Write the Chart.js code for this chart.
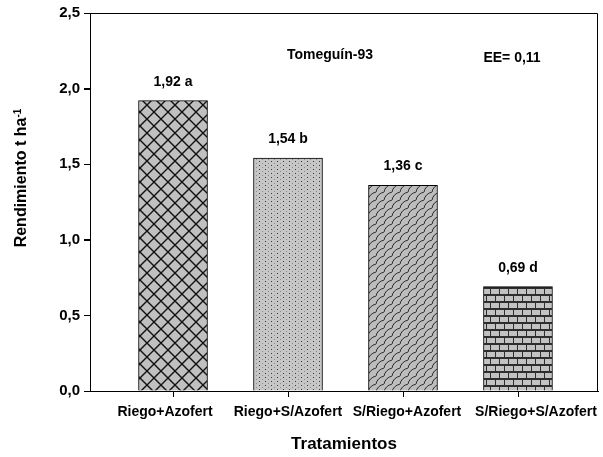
<!DOCTYPE html>
<html lang="es">
<head>
    <meta charset="UTF-8">
    <title>Rendimiento - Tomeguín-93</title>
    <script src="https://cdn.jsdelivr.net/npm/chart.js"></script>
    <style>
        html, body { margin: 0; padding: 0; background: #fff; }
        #grafico-box { width: 603px; height: 457px; }
    </style>
</head>
<body>
    <div id="grafico-box">
        <canvas id="graficoRendimiento"></canvas>
    </div>

    <script>
        // Datos
        const categorias = ['Riego+Azofert', 'Riego+S/Azofert', 'S/Riego+Azofert', 'S/Riego+S/Azofert'];
        const rendimiento = [1.92, 1.54, 1.36, 0.69];
        const letras = ['a', 'b', 'c', 'd'];
        const ticksY = [0, 0.5, 1.0, 1.5, 2.0, 2.5];
        const posX = [1, 2, 3, 4];
        // corrimiento de las etiquetas del eje X (en el original no quedan centradas)
        const corrimientoEtiq = [-8, 0, 4, 18];

        const fuente = '"Liberation Sans", Arial, sans-serif';
        const coma = v => v.toFixed(2).replace('.', ',');

        // Tramas de relleno de las barras
        function trama(w, h, dibujar) {
            const c = document.createElement('canvas');
            c.width = w; c.height = h;
            const g = c.getContext('2d');
            dibujar(g, w, h);
            return g.createPattern(c, 'repeat');
        }

        const tramaCruzada = trama(14, 14, (g, w, h) => {
            g.fillStyle = '#c0c0c0'; g.fillRect(0, 0, w, h);
            g.strokeStyle = '#111'; g.lineWidth = 1.4;
            g.beginPath();
            g.moveTo(0, 0); g.lineTo(w, h);
            g.moveTo(w, 0); g.lineTo(0, h);
            g.stroke();
        });

        const tramaPuntos = trama(6, 4, (g, w, h) => {
            g.fillStyle = '#c6c6c6'; g.fillRect(0, 0, w, h);
            g.fillStyle = '#3a3a3a'; g.fillRect(1, 1, 1, 1);
            g.fillStyle = '#8a8a8a'; g.fillRect(4, 3, 1, 1);
        });

        const tramaEscamas = trama(8, 8, (g, w, h) => {
            g.fillStyle = '#bdbdbd'; g.fillRect(0, 0, w, h);
            g.strokeStyle = '#2a2a2a'; g.lineWidth = 1;
            g.beginPath();
            g.moveTo(0, 8); g.quadraticCurveTo(1, 2, 8, 0);
            g.moveTo(-8, 8); g.quadraticCurveTo(-7, 2, 0, 0);
            g.moveTo(8, 8); g.quadraticCurveTo(9, 2, 16, 0);
            g.stroke();
        });

        const tramaLadrillo = trama(18, 14, (g, w, h) => {
            g.fillStyle = '#c2c2c2'; g.fillRect(0, 0, w, h);
            g.fillStyle = '#2e2e2e';
            g.fillRect(0, 0, w, 2);
            g.fillRect(0, 7, w, 2);
            g.fillRect(0, 2, 1, 5); g.fillRect(9, 2, 1, 5);
            g.fillRect(4, 9, 1, 5); g.fillRect(13, 9, 1, 5);
        });

        const tramas = [tramaCruzada, tramaPuntos, tramaEscamas, tramaLadrillo];

        // Textos extra: marco, marcas de eje, títulos, etiquetas y anotaciones
        const textosExtra = {
            id: 'textosExtra',
            afterDraw(chart) {
                const ctx = chart.ctx;
                const a = chart.chartArea;
                const sx = chart.scales.x;
                const sy = chart.scales.y;
                ctx.save();
                ctx.strokeStyle = '#000';
                ctx.lineWidth = 1;
                ctx.beginPath();
                ctx.moveTo(a.left, a.top + 0.5);
                ctx.lineTo(a.right - 0.5, a.top + 0.5);
                ctx.lineTo(a.right - 0.5, a.bottom);
                // marcas de los ejes
                posX.forEach(v => {
                    const px = Math.round(sx.getPixelForValue(v)) + 0.5;
                    ctx.moveTo(px, a.bottom);
                    ctx.lineTo(px, a.bottom + 6);
                });
                ticksY.forEach(v => {
                    const py = Math.round(sy.getPixelForValue(v)) + 0.5;
                    ctx.moveTo(a.left - 6, py);
                    ctx.lineTo(a.left, py);
                });
                ctx.stroke();

                ctx.fillStyle = '#000';
                ctx.textAlign = 'center';
                ctx.textBaseline = 'middle';

                // etiquetas del eje X
                ctx.font = 'bold 14px ' + fuente;
                posX.forEach((v, i) => {
                    ctx.fillText(categorias[i], sx.getPixelForValue(v) + corrimientoEtiq[i], a.bottom + 21);
                });

                // etiquetas sobre las barras
                chart.getDatasetMeta(0).data.forEach((barra, i) => {
                    ctx.fillText(coma(rendimiento[i]) + ' ' + letras[i], barra.x, barra.y - 19);
                });

                // anotaciones
                ctx.fillText('Tomeguín-93', 330, 55);
                ctx.fillText('EE= 0,11', 512, 58);

                // título eje X
                ctx.font = 'bold 17px ' + fuente;
                ctx.fillText('Tratamientos', (a.left + a.right) / 2, 444);

                // título eje Y con superíndice
                ctx.translate(22, 178);
                ctx.rotate(-Math.PI / 2);
                ctx.font = 'bold 16px ' + fuente;
                const base = 'Rendimiento t ha';
                const sup = '-1';
                const wb = ctx.measureText(base).width;
                ctx.font = 'bold 10px ' + fuente;
                const ws = ctx.measureText(sup).width;
                const x0 = -(wb + ws) / 2;
                ctx.textAlign = 'left';
                ctx.font = 'bold 16px ' + fuente;
                ctx.fillText(base, x0, 0);
                ctx.font = 'bold 10px ' + fuente;
                ctx.fillText(sup, x0 + wb, -4);
                ctx.restore();
            }
        };

        const ctxRend = document.getElementById('graficoRendimiento').getContext('2d');
        const graficoRendimiento = new Chart(ctxRend, {
            type: 'bar',
            data: {
                datasets: [{
                    label: 'Rendimiento',
                    data: rendimiento.map((v, i) => ({ x: posX[i], y: v })),
                    backgroundColor: tramas,
                    borderColor: '#000',
                    borderWidth: 1,
                    borderSkipped: 'bottom',
                    barThickness: 69
                }]
            },
            options: {
                responsive: true,
                maintainAspectRatio: false,
                animation: false,
                layout: { padding: { top: 13, right: 5, left: 0, bottom: 0 } },
                plugins: {
                    legend: { display: false },
                    tooltip: { enabled: false }
                },
                scales: {
                    x: {
                        type: 'linear',
                        offset: false,
                        min: 0.278,
                        max: 4.696,
                        afterBuildTicks: s => { s.ticks = posX.map(v => ({ value: v })); },
                        afterFit: s => { s.height = 66; },
                        ticks: { display: false },
                        grid: { display: false },
                        border: { display: true, color: '#000', width: 1 }
                    },
                    y: {
                        min: 0,
                        max: 2.5,
                        afterBuildTicks: s => { s.ticks = ticksY.map(v => ({ value: v })); },
                        afterFit: s => { s.width = 90; },
                        ticks: {
                            padding: 4,
                            color: '#000',
                            font: { family: fuente, size: 15, weight: 'bold' },
                            callback: v => v.toFixed(1).replace('.', ',')
                        },
                        grid: {
                            drawOnChartArea: false,
                            drawTicks: true,
                            tickLength: 6,
                            color: '#000'
                        },
                        border: { display: true, color: '#000', width: 1 }
                    }
                }
            },
            plugins: [textosExtra]
        });
    </script>
</body>
</html>
